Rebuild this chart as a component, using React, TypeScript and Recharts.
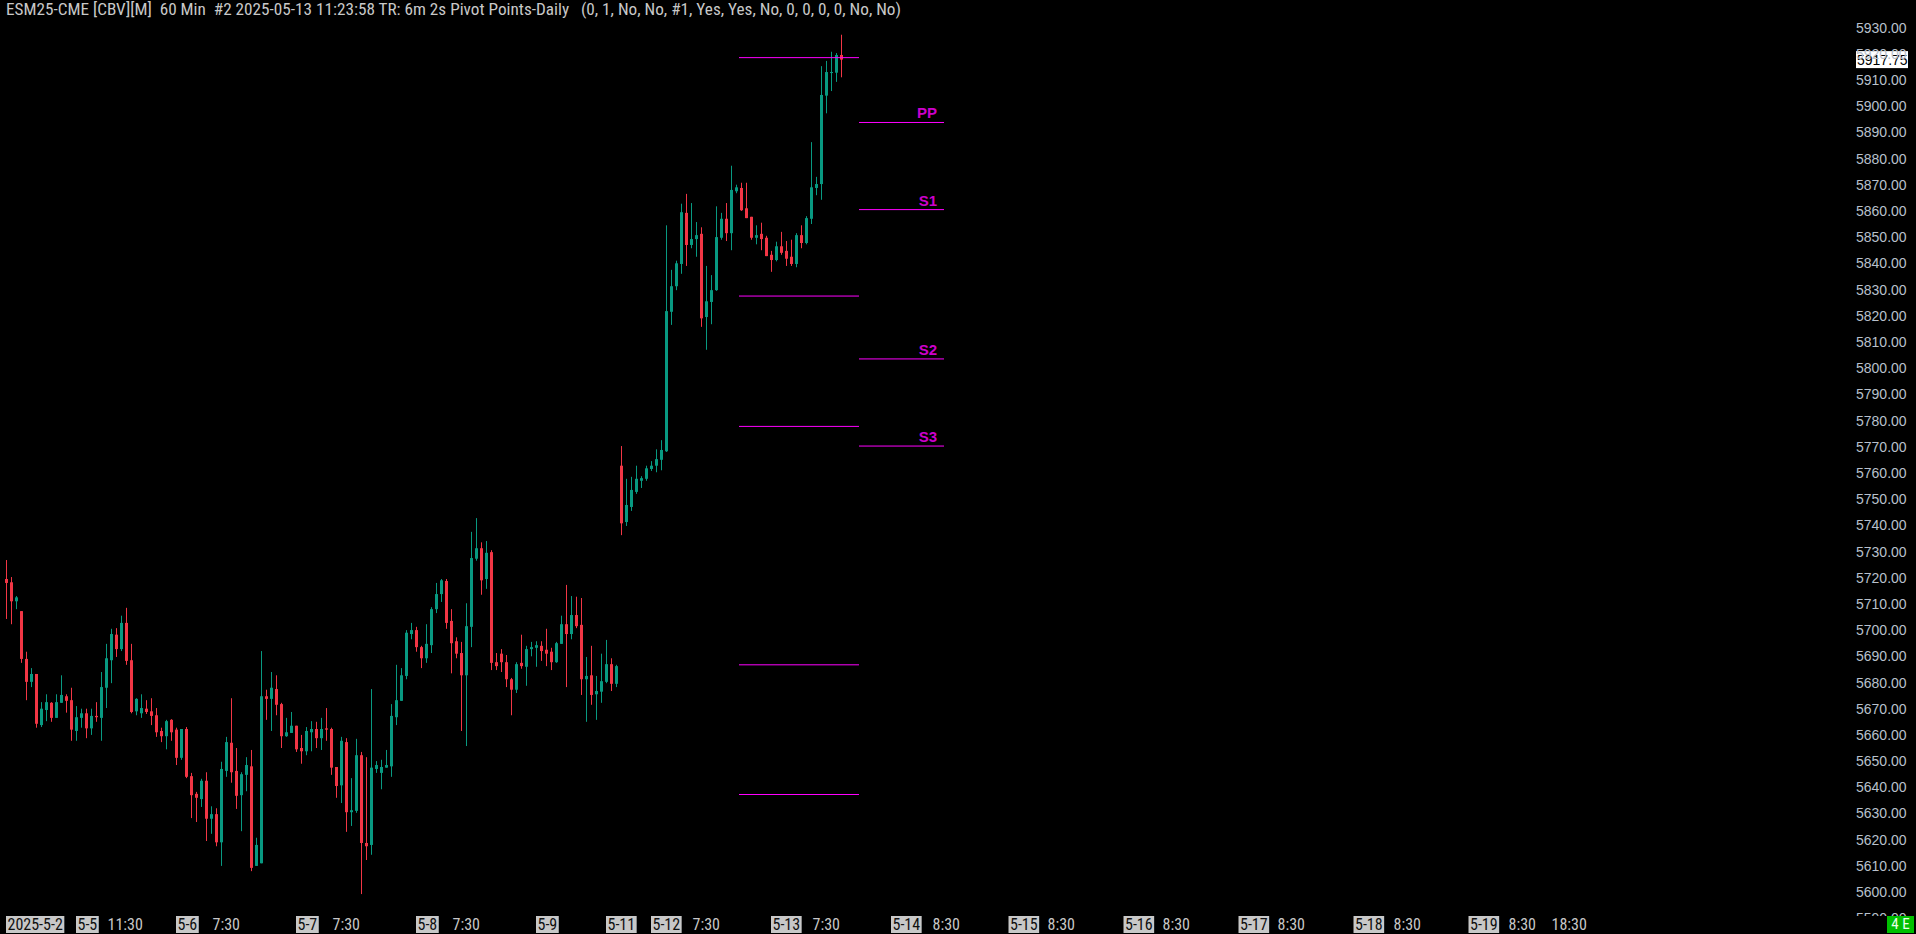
import React from 'react';
import { ComposedChart, Bar, XAxis, YAxis, ReferenceLine } from 'recharts';

const opens = [5719.5,5718.25,5711,5707.25,5689,5680.25,5683.25,5663.75,5669.5,5672.25,5666.5,5672.25,5674.75,5673.25,5661.5,5666.5,5668.25,5662.5,5667.25,5666.5,5678,5688.5,5698.25,5692.75,5702.75,5688.5,5669,5668.25,5670,5669,5667.5,5661.5,5659.5,5665.75,5662,5651.25,5662.25,5644.25,5637.5,5635.5,5642.5,5628,5629.75,5619,5646.25,5657,5646.25,5637,5644.75,5648,5610,5611,5674.75,5673.75,5677.5,5671.75,5659.5,5660.75,5663.5,5655,5653.75,5661,5662.25,5658.75,5662.5,5662.25,5647.75,5640.75,5657.25,5630.5,5631,5652.25,5618.75,5618,5647,5645.5,5647.5,5648,5666.75,5673,5682.5,5698.5,5700,5693.5,5689.25,5694.25,5708,5713.75,5718.75,5703.5,5695.75,5691.25,5682.75,5701.25,5727.25,5731.25,5719.5,5729.75,5687.75,5691,5687.75,5681.25,5677.25,5687.5,5686,5692.75,5693.25,5694,5692.5,5691.75,5687.75,5694.75,5702.25,5698.5,5705.75,5702,5681.25,5682.75,5675.5,5676.5,5680.25,5687,5679.5,5762.75,5741.25,5747,5752.75,5757,5757.75,5761.5,5762.75,5765,5768.25,5821.5,5831.25,5839.75,5859.25,5847,5849.25,5851.25,5819.5,5825.25,5829.75,5849.75,5857,5851.5,5867.5,5868.75,5861,5857.75,5849.75,5851.25,5849.75,5843.25,5841.25,5846.5,5844.75,5842.5,5839.75,5850.75,5847.75,5857,5868.75,5870.25,5904,5912.75,5912.75,5919.5];
const highs = [5726.75,5720.25,5713,5707.25,5691.75,5685.5,5683.25,5672.5,5675.5,5672.5,5675.5,5682.75,5675.5,5678,5671,5670,5670,5670,5672.5,5684,5694.75,5700.5,5700.75,5705.5,5708.5,5694.75,5674,5675.5,5673.25,5674,5670.25,5662.75,5665.75,5666,5662.75,5662.25,5663,5645.5,5638.25,5643.25,5645.75,5632.75,5632,5649.75,5659.25,5674,5655,5645.75,5651.5,5654.25,5620.75,5692,5677.25,5684,5682.75,5672.25,5666.5,5668.75,5663.5,5660,5663,5665.25,5665,5666.5,5670.25,5662.75,5647.75,5659.25,5658.75,5643.5,5658.5,5653.5,5651.5,5677.5,5650,5650.5,5654.25,5671.75,5686.75,5685.5,5700,5702.75,5701.25,5694,5702.25,5708.75,5718,5719.5,5719.5,5708,5697.25,5695.5,5710.25,5737.5,5742.75,5733.5,5734,5730.5,5691.25,5692.75,5690.5,5681.75,5687.75,5698.25,5694,5695.5,5695.75,5695.75,5700.5,5693.25,5695.5,5705.5,5717.25,5713,5712.75,5712.25,5689.75,5694,5682.5,5691,5696.25,5689.25,5686.75,5770.25,5757.75,5758.5,5762.75,5758.75,5762.75,5764.5,5769,5772.5,5854.5,5837.5,5841,5862.75,5866.5,5863,5855.75,5853.75,5839,5835.5,5861.75,5859.25,5863,5877.25,5870,5870.75,5870.75,5857.75,5854.5,5855.5,5850.5,5844.75,5848.25,5852,5848.5,5849,5851.5,5854.5,5858,5886.25,5873,5915.25,5917.25,5920.75,5920.25,5927.25];
const lows = [5704.25,5702.25,5708,5687.5,5673.25,5678.25,5662.75,5663,5665.25,5665,5666.5,5672.25,5668.5,5657.75,5657.75,5662.75,5658.75,5660,5665,5657.75,5670.25,5679.75,5689.75,5692,5686.75,5668.25,5667.5,5666.5,5668,5663.75,5659.25,5657.25,5654.5,5657.75,5648.5,5650.5,5643.5,5628.25,5626.75,5632.5,5619.5,5622.25,5617.5,5610,5644,5641.75,5631.75,5623.25,5638.5,5608,5610,5611,5665.75,5661.5,5667.5,5655,5659.25,5660.75,5653.5,5649,5652.25,5653.75,5655,5654.25,5657.75,5644.75,5636,5634,5623,5625.25,5630.25,5599.25,5612.25,5614.25,5645.5,5639.25,5647.5,5644,5663.75,5673,5681.25,5696.5,5691.75,5685.5,5687.5,5691.25,5706.5,5710.75,5700.5,5683.5,5689.25,5661.5,5655.75,5693.5,5726.5,5713.5,5715.75,5684.75,5684.75,5684,5678.25,5667.5,5676,5685.25,5678.75,5690,5686,5688.25,5686.25,5684.75,5687.5,5694.75,5678.25,5696.5,5700.75,5675.25,5665,5671.5,5665.75,5672.25,5679.75,5676.75,5678.25,5736.25,5739.75,5745.5,5752,5754.25,5757,5760.75,5760.25,5761,5768,5816.5,5829.75,5836,5839,5845.75,5842.5,5815.75,5807,5816.75,5829.5,5849,5848.5,5845,5866.75,5860,5857.25,5849,5847.25,5845,5842.75,5836.75,5840.75,5843.25,5839,5839,5838.5,5845.75,5847.25,5855,5866,5864.25,5897.25,5905.75,5909.25,5911];
const closes = [5718,5711,5712.5,5689,5680.25,5683.25,5664.25,5670,5672.5,5666.5,5672.5,5675.25,5673,5662,5666.75,5668.25,5662.5,5667.25,5666.75,5678.25,5689.25,5698.5,5692.75,5702.75,5688.25,5668.75,5673.75,5670.25,5668.75,5667.25,5661,5659.5,5665.25,5661,5651.25,5662.25,5644,5637,5636,5642.5,5628,5629.75,5619,5647,5657.25,5645.75,5636.75,5645,5648.5,5609.25,5618,5674.75,5673.75,5678,5671.5,5659.5,5661,5663.5,5654.5,5653.75,5661.5,5662.25,5658.75,5662.25,5662,5647.5,5640.5,5657.75,5630.5,5631.25,5652.25,5618.75,5617.5,5647.5,5648.5,5647.75,5648.5,5667.25,5673.25,5682.75,5699,5700,5693.5,5689.25,5694.75,5708,5713.75,5719,5702.75,5695,5691,5682.75,5701.5,5727.5,5731.25,5719,5729.5,5687.5,5686.25,5687.75,5681.25,5677.25,5687,5686.25,5692.75,5693.5,5694.25,5692,5691,5687.75,5695,5702.25,5698.5,5705.75,5701.5,5681.25,5682.5,5675.25,5676.75,5680.5,5687,5679.5,5686.25,5740.75,5747.75,5753.5,5757.75,5758,5761.75,5762.75,5765.25,5768.75,5821.75,5831.25,5840,5859.5,5847,5849.25,5850.75,5819,5825.5,5829.75,5850,5857,5851.5,5868,5869,5860.25,5857.25,5849.75,5850.75,5849.25,5842.75,5841.25,5846.5,5844,5841.75,5839.75,5850.75,5847.75,5857.25,5869,5870.25,5904.25,5913,5913,5919.5,5917.75];

const yTicks = [5590,5600,5610,5620,5630,5640,5650,5660,5670,5680,5690,5700,5710,5720,5730,5740,5750,5760,5770,5780,5790,5800,5810,5820,5830,5840,5850,5860,5870,5880,5890,5900,5910,5920,5930];

const xTickPos = [0,14,20,34,41,58,65,82,89,106,120,129,137,153,161,177,185,200.5,208,223.5,231,246.5,254,269.5,277.2,292.5,300.2,308.8];
const xTickLabels = ['2025-5-2','5-5','11:30','5-6','7:30','5-7','7:30','5-8','7:30','5-9','5-11','5-12','7:30','5-13','7:30','5-14','8:30','5-15','8:30','5-16','8:30','5-17','8:30','5-18','8:30','5-19','8:30','18:30'];
const xTickIsDate = [1,1,0,1,0,1,0,1,0,1,1,1,0,1,0,1,0,1,0,1,0,1,0,1,0,1,0,0];

const prevDayLevels = [5918.5, 5827.5, 5777.75, 5686.75, 5637.25];
const pivotLevels = [5893.75, 5860.5, 5803.5, 5770.25];
const pivotNames = ['PP', 'S1', 'S2', 'S3'];
const prevSpan = [146.5, 170.5];
const curSpan = [170.5, 187.5];

const lastPrice = closes[closes.length - 1];

const data = opens.map((o, i) => ({
  idx: i, o, h: highs[i], l: lows[i], c: closes[i], range: [lows[i], highs[i]],
}));

const UP = '#089981';
const DOWN = '#F23645';
const MAG = '#FF00FF';
const NARROW = '"Liberation Sans Narrow", "Arial Narrow", "Roboto Condensed", sans-serif';
const SANS = '"Liberation Sans", Arial, sans-serif';

let ctx: CanvasRenderingContext2D | null = null;
function measure(t: string, font: string) {
  if (!ctx) ctx = document.createElement('canvas').getContext('2d');
  if (!ctx) return t.length * 7;
  ctx.font = font;
  return ctx.measureText(t).width;
}

function Candle(props: any) {
  const { x, y, width, height, payload } = props;
  if (x == null || payload == null) return null;
  const top = Math.min(y, y + height);
  const bot = Math.max(y, y + height);
  const { o, h, l, c } = payload;
  const span = h - l || 1;
  const py = (p: number) => top + ((h - p) / span) * (bot - top);
  const cx = Math.floor(x + width / 2) + 0.5;
  const color = c >= o ? UP : DOWN;
  const bTop = py(Math.max(o, c));
  const bBot = py(Math.min(o, c));
  return (
    <g>
      <rect x={cx - 0.5} y={top} width={1} height={Math.max(1, bot - top)} fill={color} />
      <rect x={cx - 1.5} y={bTop} width={3} height={Math.max(1, bBot - bTop)} fill={color} />
    </g>
  );
}

function YTick(props: any) {
  const { x, y, payload } = props;
  const v = payload.value as number;
  const clip = v === 5590;
  return (
    <g>
      {clip && (
        <defs>
          <clipPath id="ytick-clip">
            <rect x={1840} y={0} width={76} height={916} />
          </clipPath>
        </defs>
      )}
      <text x={x} y={y + 5} fill="#B8C0CC" fontSize={14} fontFamily={SANS} textAnchor="start"
        clipPath={clip ? 'url(#ytick-clip)' : undefined}>
        {v.toFixed(2)}
      </text>
    </g>
  );
}

function XTick(props: any) {
  const { x, y, index } = props;
  const label = xTickLabels[index];
  if (label == null) return null;
  const isDate = xTickIsDate[index] === 1;
  const font = `16px ${NARROW}`;
  const w = measure(label, font);
  const left = x - 0.5;
  return (
    <g>
      {isDate && <rect x={left} y={y - 4} width={w + 3} height={17} fill="#C8C8C8" />}
      <text x={left + 1.5} y={y + 10} fill={isDate ? '#101010' : '#C8C8C8'} fontSize={16}
        fontFamily={NARROW} textAnchor="start">
        {label}
      </text>
    </g>
  );
}

const pivotLabel = (name: string) => (p: any) => {
  const vb = p.viewBox || {};
  const xr = (vb.x || 0) + (vb.width || 0) - 7;
  return (
    <text x={xr} y={(vb.y || 0) - 4} textAnchor="end" fill="#CC00CC" fontSize={15}
      fontWeight={700} fontFamily={SANS}>
      {name}
    </text>
  );
};

const priceBadge = (p: any) => {
  const vb = p.viewBox || {};
  const xl = (vb.x || 0) + (vb.width || 0) + 16;
  const yc = vb.y || 0;
  return (
    <g>
      <rect x={xl} y={yc - 8.5} width={52} height={17} fill="#FFFFFF" />
      <text x={xl + 1} y={yc + 5} fill="#000000" fontSize={14} fontFamily={SANS}>
        {lastPrice.toFixed(2)}
      </text>
    </g>
  );
};

export default function App() {
  return (
    <div style={{ position: 'fixed', left: 0, top: 0, width: 1916, height: 934, background: '#000', overflow: 'hidden' }}>
      <style>{'body{margin:0;background:#000;}'}</style>
      <ComposedChart width={1916} height={934} data={data} margin={{ top: 0, right: 0, bottom: 0, left: 0 }}>
        <XAxis dataKey="idx" type="number" domain={[-1.3, 366.7]} allowDataOverflow ticks={xTickPos}
          interval={0} height={14} tickSize={0} tickMargin={0} axisLine={false} tickLine={false}
          tick={<XTick />} />
        <YAxis orientation="right" width={76} domain={[5589.35, 5940.5]} allowDataOverflow ticks={yTicks}
          interval={0} tickSize={0} tickMargin={16} axisLine={false} tickLine={false} tick={<YTick />} />
        <Bar dataKey="range" barSize={3} isAnimationActive={false} shape={(p: any) => <Candle {...p} />} />
        {prevDayLevels.map((lv, i) => (
          <ReferenceLine key={'p' + i} segment={[{ x: prevSpan[0], y: lv }, { x: prevSpan[1], y: lv }]}
            stroke={MAG} strokeWidth={1} />
        ))}
        {pivotLevels.map((lv, i) => (
          <ReferenceLine key={'c' + i} segment={[{ x: curSpan[0], y: lv }, { x: curSpan[1], y: lv }]}
            stroke={MAG} strokeWidth={1} label={pivotLabel(pivotNames[i])} />
        ))}
        <ReferenceLine y={lastPrice} stroke="none" strokeOpacity={0} label={priceBadge} />
      </ComposedChart>
      <div style={{ position: 'absolute', left: 6, top: 0, color: '#C8C8C8', font: `17.2px ${NARROW}`, whiteSpace: 'pre', lineHeight: '18px' }}>
        {'ESM25-CME [CBV][M]  60 Min  #2 2025-05-13 11:23:58 TR: 6m 2s Pivot Points-Daily   (0, 1, No, No, #1, Yes, Yes, No, 0, 0, 0, 0, No, No)'}
      </div>
      <div style={{ position: 'absolute', left: 1887, top: 916, width: 27, height: 17, background: '#00C000', color: '#E8FFE8', font: `15px ${NARROW}`, textAlign: 'center', lineHeight: '17px' }}>
        4 E
      </div>
    </div>
  );
}
